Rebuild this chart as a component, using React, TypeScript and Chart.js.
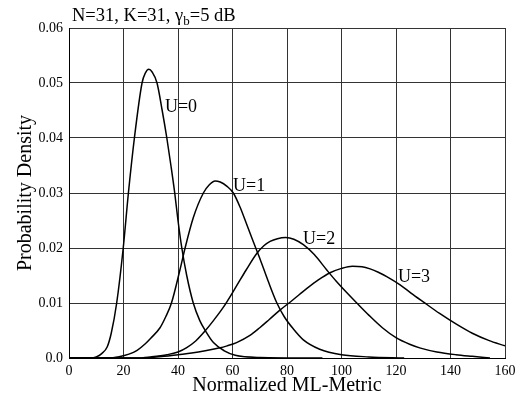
import React, { useEffect, useRef } from 'react';
import { Chart, registerables } from 'chart.js';

Chart.register(...registerables);

// U=0 curve
const u0X = [0, 8, 10, 12, 14, 15.5, 17.5, 19.9, 21.8, 24.0, 26.8, 28.0, 29.3, 30.5, 32.3, 34.2, 35.9, 37.4, 38.8, 40.0, 41.4, 43.2, 45.6, 48, 50, 53, 57, 61, 70, 93];
const u0Y = [0, 0, 0.0002, 0.0008, 0.002, 0.0045, 0.010, 0.020, 0.030, 0.040, 0.050, 0.0518, 0.0525, 0.0520, 0.050, 0.045, 0.040, 0.035, 0.030, 0.025, 0.020, 0.015, 0.010, 0.0068, 0.0050, 0.0028, 0.0013, 0.0005, 0.0001, 0];

// U=1 curve
const u1X = [0, 15, 18, 22, 25, 28, 30, 33.4, 35.5, 37.6, 40.7, 42.6, 45.6, 49.3, 51.5, 53.6, 55.5, 58, 60.3, 62.8, 65.2, 67.5, 70.1, 73, 76.2, 79, 82.3, 86, 92, 100, 110, 123];
const u1Y = [0, 0, 0.0002, 0.0007, 0.0014, 0.0026, 0.0036, 0.0055, 0.0075, 0.010, 0.0160, 0.0200, 0.0255, 0.0300, 0.0315, 0.0322, 0.0320, 0.0312, 0.0300, 0.0274, 0.0243, 0.0213, 0.0180, 0.0141, 0.0101, 0.0075, 0.0053, 0.0033, 0.0016, 0.0006, 0.0002, 0];

// U=2 curve
const u2X = [0, 25, 30, 36, 40, 43.2, 46.5, 49.9, 53, 56.6, 61, 65, 68.9, 71.5, 73.8, 76.5, 79.5, 82.5, 86, 90, 94.6, 98, 101.9, 105.6, 110, 115, 120, 125, 129, 135, 142, 148, 154.5];
const u2Y = [0, 0, 0.0002, 0.0006, 0.0011, 0.0019, 0.0031, 0.0049, 0.0068, 0.0092, 0.0127, 0.0160, 0.0190, 0.0204, 0.0212, 0.0217, 0.0219, 0.0216, 0.0206, 0.0188, 0.0160, 0.0140, 0.0119, 0.0100, 0.0078, 0.0055, 0.0037, 0.0025, 0.0018, 0.0011, 0.0006, 0.0003, 0];

// U=3 curve
const u3X = [0, 25, 30, 35, 40, 45, 50, 55, 58, 61.5, 66.4, 70, 73.5, 77.4, 82, 87.2, 91.5, 95.8, 100, 104, 107.5, 110.5, 113.5, 116.6, 121.5, 125.5, 130, 136, 142.3, 148, 154, 160];
const u3Y = [0, 0, 0.0001, 0.0003, 0.0006, 0.0009, 0.0013, 0.0018, 0.0022, 0.0028, 0.0041, 0.0055, 0.0070, 0.0087, 0.0105, 0.0126, 0.0142, 0.0155, 0.0163, 0.0167, 0.0166, 0.0162, 0.0156, 0.0148, 0.0133, 0.0118, 0.0102, 0.0081, 0.0061, 0.0045, 0.0032, 0.0022];

// curve labels and their anchor (data coordinates)
const curveLabels = ['U=0', 'U=1', 'U=2', 'U=3'];
const labelX = [35.2, 60.2, 85.9, 120.7];
const labelY = [0.0456, 0.0312, 0.0216, 0.0147];

const xTitle = 'Normalized ML-Metric';
const yTitle = 'Probability Density';
const titleMain = 'N=31, K=31, \u03b3';
const titleSub = 'b';
const titleEnd = '=5 dB';

const FONT = '"Liberation Serif", "Times New Roman", Times, serif';

export default function App() {
  const ref = useRef<HTMLCanvasElement>(null);

  useEffect(() => {
    document.body.style.margin = '0';
    const canvas = ref.current;
    if (!canvas) return;

    const series = [
      [u0X, u0Y],
      [u1X, u1Y],
      [u2X, u2Y],
      [u3X, u3Y],
    ];

    const annotate = {
      id: 'annotate',
      afterDatasetsDraw(chart: any) {
        const { ctx, scales } = chart;
        const xs = scales.x;
        const ys = scales.y;
        ctx.save();
        ctx.fillStyle = '#000';
        ctx.textAlign = 'left';
        ctx.textBaseline = 'middle';
        ctx.font = `18px ${FONT}`;
        curveLabels.forEach((t, i) => {
          ctx.fillText(t, xs.getPixelForValue(labelX[i]), ys.getPixelForValue(labelY[i]));
        });
        // title with subscript
        ctx.textBaseline = 'alphabetic';
        let px = 72;
        const base = 21;
        ctx.font = `18.5px ${FONT}`;
        ctx.fillText(titleMain, px, base);
        px += ctx.measureText(titleMain).width;
        ctx.font = `13px ${FONT}`;
        ctx.fillText(titleSub, px, base + 4);
        px += ctx.measureText(titleSub).width;
        ctx.font = `18.5px ${FONT}`;
        ctx.fillText(titleEnd, px, base);
        ctx.restore();
      },
    };

    const chart = new Chart(canvas, {
      type: 'line',
      data: {
        datasets: series.map(([xs, ys], k) => ({
          label: curveLabels[k],
          data: xs.map((x, i) => ({ x, y: ys[i] })),
          borderColor: '#000',
          borderWidth: 1.5,
          pointRadius: 0,
          fill: false,
          cubicInterpolationMode: 'monotone' as const,
        })),
      },
      options: {
        responsive: false,
        animation: false,
        events: [],
        layout: { padding: { top: 28, right: 24, left: 0, bottom: 0 } },
        plugins: {
          legend: { display: false },
          tooltip: { enabled: false },
        },
        scales: {
          x: {
            type: 'linear',
            min: 0,
            max: 160,
            afterFit: (s: any) => {
              s.height = 42;
            },
            ticks: {
              stepSize: 20,
              color: '#000',
              padding: 5,
              maxRotation: 0,
              font: { family: FONT, size: 14 },
            },
            grid: { color: '#333', lineWidth: 1, drawTicks: false },
            border: { color: '#000', width: 1 },
            title: {
              display: true,
              text: xTitle,
              color: '#000',
              font: { family: FONT, size: 20 },
              padding: { top: 0, bottom: 2 },
            },
          },
          y: {
            type: 'linear',
            min: 0,
            max: 0.06,
            afterFit: (s: any) => {
              s.width = 69;
            },
            ticks: {
              stepSize: 0.01,
              color: '#000',
              padding: 6,
              font: { family: FONT, size: 14 },
              callback: (v: any) => (Number(v) === 0 ? '0.0' : Number(v).toFixed(2)),
            },
            grid: { color: '#333', lineWidth: 1, drawTicks: false },
            border: { color: '#000', width: 1 },
            title: {
              display: true,
              text: yTitle,
              color: '#000',
              font: { family: FONT, size: 20 },
              padding: { top: 14, bottom: 0 },
            },
          },
        },
      },
      plugins: [annotate],
    });

    return () => chart.destroy();
  }, []);

  return (
    <div style={{ position: 'absolute', left: 0, top: 0, width: 529, height: 400 }}>
      <canvas ref={ref} width={529} height={400} />
    </div>
  );
}
